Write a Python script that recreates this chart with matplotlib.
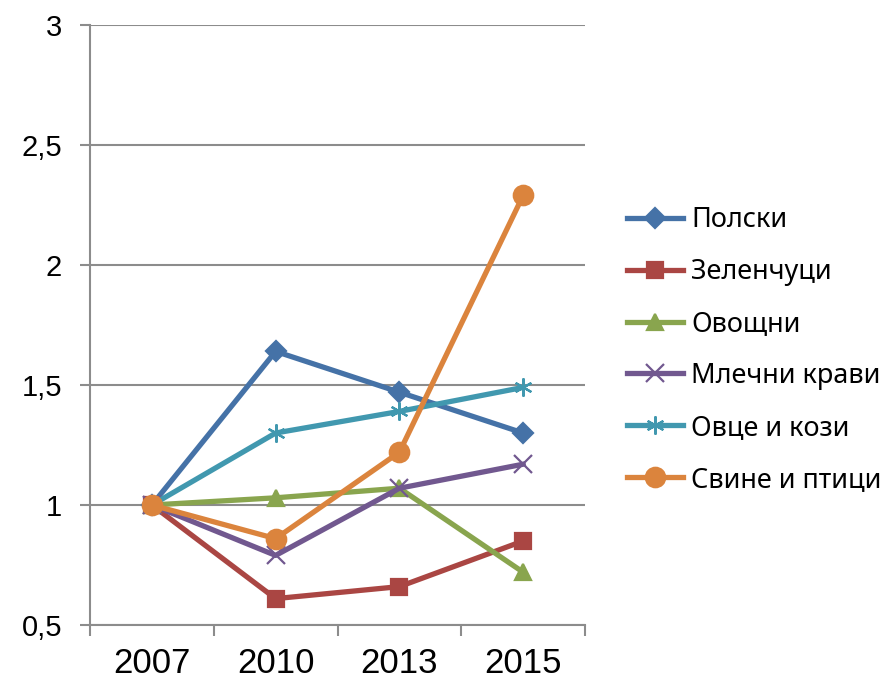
import matplotlib.pyplot as plt
from matplotlib.ticker import FuncFormatter, FixedLocator

# Data
years = ["2007", "2010", "2013", "2015"]
series_names = ["Полски", "Зеленчуци", "Овощни", "Млечни крави", "Овце и кози", "Свине и птици"]
polski = [1.0, 1.64, 1.47, 1.30]
zelenchutsi = [1.0, 0.61, 0.66, 0.85]
ovoshtni = [1.0, 1.03, 1.07, 0.72]
mlechni = [1.0, 0.79, 1.07, 1.17]
ovtse = [1.0, 1.30, 1.39, 1.49]
svine = [1.0, 0.86, 1.22, 2.29]

colors = ["#4572A7", "#AA4643", "#89A54E", "#71588F", "#4198AF", "#DB843D"]
markers = ["D", "s", "^", "x", (6, 2, 0), "o"]
msizes = [10, 12, 12, 13, 13, 14]

fig = plt.figure(figsize=(8.84, 6.83), dpi=100)
ax = fig.add_axes([0.1018, 0.0849, 0.56, 0.8785])

x = list(range(len(years)))
all_vals = [polski, zelenchutsi, ovoshtni, mlechni, ovtse, svine]
for name, vals, c, m, ms in zip(series_names, all_vals, colors, markers, msizes):
    ax.plot(x, vals, color=c, lw=3.8, marker=m, ms=ms, mew=1.6, mec=c, label=name, zorder=3)

ax.set_xlim(-0.5, 3.5)
ax.set_ylim(0.5, 3)
ax.set_yticks([0.5, 1, 1.5, 2, 2.5, 3])
ax.yaxis.set_major_formatter(FuncFormatter(lambda v, p: f"{v:g}".replace(".", ",")))
ax.grid(axis="y", color="#8c8c8c", lw=1.5)
ax.set_axisbelow(True)

ax.set_xticks(x)
ax.set_xticklabels(years, fontsize=25, family="Liberation Sans")
ax.tick_params(axis="x", which="major", length=0, pad=16)
ax.xaxis.set_minor_locator(FixedLocator([-0.5, 0.5, 1.5, 2.5, 3.5]))
ax.tick_params(axis="x", which="minor", length=8, width=1.5, color="#8c8c8c")
ax.tick_params(axis="y", length=7, width=1.5, color="#8c8c8c", labelsize=21, pad=13)
for lab in ax.get_yticklabels():
    lab.set_family("Liberation Sans")

for side in ["top", "right"]:
    ax.spines[side].set_visible(False)
for side in ["left", "bottom"]:
    ax.spines[side].set_color("#8c8c8c")
    ax.spines[side].set_linewidth(1.5)

leg = fig.legend(loc="center left", bbox_to_anchor=(0.682, 0.4876), frameon=False,
                 prop={"family": "Noto Sans", "size": 19.5}, handlelength=2.05, handletextpad=0.3,
                 labelspacing=0.88)

fig.savefig("out.png", dpi=100)
